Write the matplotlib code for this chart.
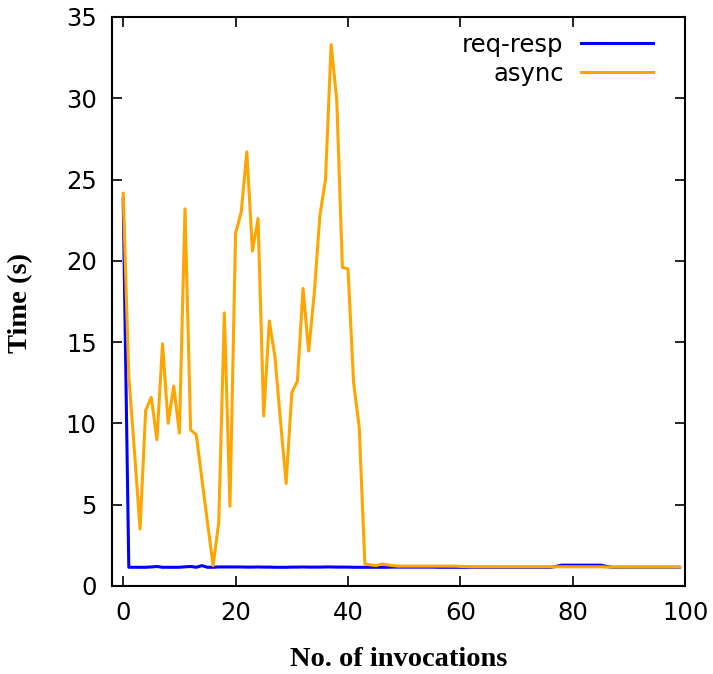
import matplotlib
matplotlib.use('Agg')
import matplotlib.pyplot as plt

# invocation index 0..99
invocations = list(range(100))

# req-resp (blue) timings in seconds
req_resp = [23.8, 1.15, 1.15, 1.15, 1.15, 1.17, 1.2, 1.15, 1.15, 1.15,
            1.15, 1.18, 1.2, 1.15, 1.25, 1.15, 1.15, 1.17, 1.17, 1.17,
            1.17, 1.17, 1.16, 1.16, 1.17, 1.16, 1.16, 1.15, 1.15, 1.15,
            1.16, 1.16, 1.17, 1.16, 1.16, 1.16, 1.17, 1.17, 1.16, 1.16,
            1.16, 1.15, 1.15, 1.15, 1.15, 1.15, 1.15, 1.15, 1.16, 1.16,
            1.16, 1.16, 1.16, 1.16, 1.16, 1.16, 1.15, 1.15, 1.15, 1.15,
            1.15, 1.15, 1.15, 1.15, 1.15, 1.15, 1.15, 1.15, 1.15, 1.15,
            1.15, 1.15, 1.15, 1.15, 1.15, 1.15, 1.15, 1.2, 1.28, 1.28,
            1.28, 1.28, 1.28, 1.28, 1.28, 1.28, 1.2, 1.15, 1.15, 1.15,
            1.15, 1.15, 1.15, 1.15, 1.15, 1.15, 1.15, 1.15, 1.15, 1.15]

# async (orange) timings in seconds
async_t = [24.15, 12.9, 8.3, 3.5, 10.8, 11.6, 9.0, 14.9, 10.0, 12.3,
           9.4, 23.2, 9.6, 9.3, 6.6, 3.9, 1.25, 3.9, 16.8, 4.9,
           21.7, 23.0, 26.7, 20.6, 22.6, 10.45, 16.3, 14.1, 10.1, 6.3,
           11.9, 12.6, 18.3, 14.45, 18.0, 22.8, 25.0, 33.3, 29.9, 19.6,
           19.5, 12.5, 9.75, 1.35, 1.3, 1.25, 1.35, 1.3, 1.25, 1.22,
           1.22, 1.22, 1.22, 1.22, 1.22, 1.22, 1.22, 1.22, 1.22, 1.22,
           1.2, 1.2, 1.18, 1.18, 1.18, 1.18, 1.18, 1.18, 1.18, 1.18,
           1.18, 1.18, 1.18, 1.18, 1.18, 1.18, 1.18, 1.18, 1.18, 1.18,
           1.18, 1.18, 1.18, 1.18, 1.18, 1.18, 1.16, 1.16, 1.16, 1.16,
           1.16, 1.16, 1.16, 1.16, 1.16, 1.16, 1.16, 1.16, 1.16, 1.16]

x_ticks = [0, 20, 40, 60, 80, 100]
y_ticks = [0, 5, 10, 15, 20, 25, 30, 35]

fig = plt.figure(figsize=(7.13, 6.74), dpi=100)
ax = fig.add_axes([0.157, 0.1306, 0.804, 0.8442])

ax.plot(invocations, req_resp, color='#0000ff', linewidth=2.2, label='req-resp')
ax.plot(invocations, async_t, color='#ffa500', linewidth=2.2, label='async')

ax.set_xlim(-2, 100)
ax.set_ylim(0, 35)
ax.set_xticks(x_ticks)
ax.set_yticks(y_ticks)
ax.tick_params(direction='in', length=7, width=1.2, top=True, right=True,
               labelsize=17.5)
ax.tick_params(axis='y', pad=11)
ax.tick_params(axis='x', pad=11)
for s in ax.spines.values():
    s.set_linewidth(1.5)

# bold serif axis titles, gnuplot-style
fig.text(0.5 * (0.157 + 0.961), 1 - 660 / 674, 'No. of invocations',
         family='Liberation Serif', fontweight='bold', fontsize=20.5,
         ha='center', va='center')
fig.text(21 / 713, 1 - 303 / 674, 'Time (s)', family='Liberation Serif',
         fontweight='bold', fontsize=20.5, rotation=90,
         ha='center', va='center')

ax.legend(loc='upper right', bbox_to_anchor=(1 - 32 / 573, 1 - 16 / 569),
          frameon=False, markerfirst=False, fontsize=17.5,
          handlelength=2.95, handletextpad=0.73, labelspacing=0.2,
          borderaxespad=0, borderpad=0)

fig.savefig('out.png', dpi=100)
